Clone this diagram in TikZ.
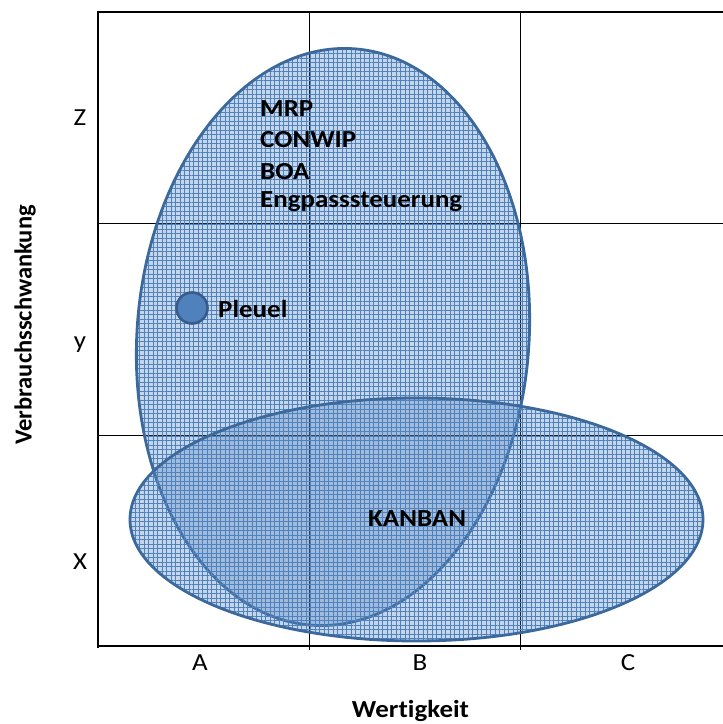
\documentclass[tikz,border=0pt]{standalone}
\usepackage{fontspec}
\setmainfont{Carlito}[Ligatures={NoCommon,NoRequired,NoContextual}]
\usetikzlibrary{patterns.meta}
\definecolor{fillblue}{HTML}{4F81BD}
\definecolor{edgeblue}{HTML}{3C699B}
\definecolor{dotedge}{HTML}{385D8A}
\tikzset{
  frame/.style={black, line width=2pt},
  gridline/.style={black, line width=0.9pt},
  blob/.style={fill=fillblue, fill opacity=0.32},
  mesh/.style={pattern={Lines[distance=4.5pt,line width=0.55pt]}, pattern color=fillblue, fill opacity=0.5},
  meshv/.style={pattern={Lines[angle=90,distance=4.5pt,line width=0.55pt]}, pattern color=fillblue, fill opacity=0.5},
  rim/.style={draw=edgeblue, line width=2.8pt},
  method/.style={font=\fontsize{24.5}{29}\selectfont\bfseries, anchor=base west, inner sep=0pt, xscale=1.1},
  tick/.style={font=\fontsize{24.5}{29}\selectfont, inner sep=0pt, xscale=1.1},
  axistitle/.style={font=\fontsize{24.5}{29}\selectfont\bfseries, inner sep=0pt}
}
\begin{document}
\begin{tikzpicture}[x=1pt,y=1pt]
\useasboundingbox (0,0) rectangle (723,724);
% grid of the portfolio
\draw[gridline] (309,712) -- (309,74);
\draw[gridline] (520,712) -- (520,74);
\draw[gridline] (98,501) -- (723,501);
\draw[gridline] (98,289) -- (723,289);
\draw[frame] (98,712) -- (723,712);
\draw[frame] (98,713) -- (98,76);
\draw[black, line width=1.6pt] (97,78) -- (723,78);
% upper (tall) ellipse
\begin{scope}[shift={(333,387)}, rotate=-4.3]
  \fill[blob] (0,0) ellipse [x radius=196, y radius=289];
  \fill[mesh] (0,0) ellipse [x radius=196, y radius=289];
  \fill[meshv] (0,0) ellipse [x radius=196, y radius=289];
  \draw[rim] (0,0) ellipse [x radius=196, y radius=289];
\end{scope}
% lower (wide) ellipse
\begin{scope}[shift={(416.5,204.5)}]
  \fill[blob] (0,0) ellipse [x radius=286.5, y radius=121.5];
  \fill[mesh] (0,0) ellipse [x radius=286.5, y radius=121.5];
  \fill[meshv] (0,0) ellipse [x radius=286.5, y radius=121.5];
  \draw[rim] (0,0) ellipse [x radius=286.5, y radius=121.5];
\end{scope}
% part marker
\draw[fill=fillblue, draw=dotedge, line width=2.6pt] (192,416) circle [radius=15.5];
% texts
\node[method] (mrp) at (260,607) {MRP};
\node[method] (conwip) at (260,576) {CONWIP};
\node[method] (boa) at (260,544) {BOA};
\node[method] (eng) at (260,516) {Engpasssteuerung};
\node[method] (pleuel) at (218,406) {Pleuel};
\node[method] (kanban) at (368,197) {KANBAN};
\node[tick] (z) at (80,606) {Z};
\node[tick] (ym) at (80,379) {y};
\node[tick] (x) at (80,162) {X};
\node[tick, anchor=base] (a) at (200,53) {A};
\node[tick, anchor=base] (b) at (420,53) {B};
\node[tick, anchor=base] (c) at (628,53) {C};
\node[axistitle, anchor=base, xscale=1.1] (wert) at (410.5,6) {Wertigkeit};
\node[axistitle, rotate=90] (verb) at (25,399) {Verbrauchsschwankung};
\end{tikzpicture}
\end{document}
